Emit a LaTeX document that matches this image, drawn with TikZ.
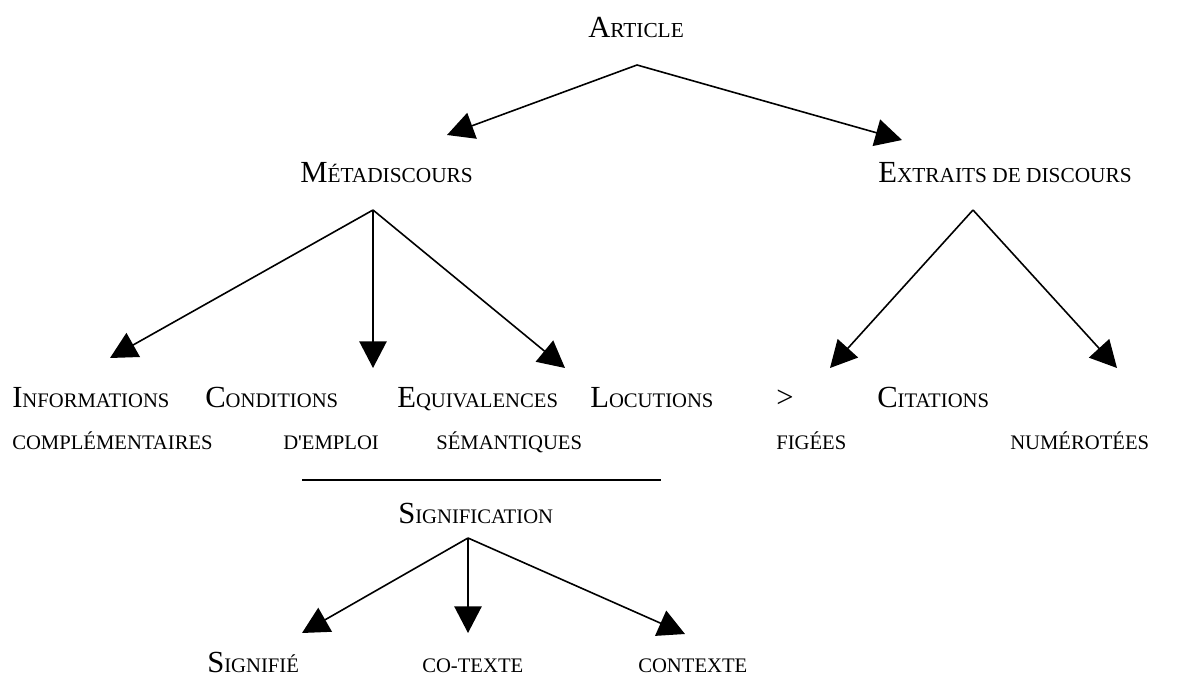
\documentclass[tikz,border=0pt]{standalone}
\usepackage{fontspec}
\setmainfont{Liberation Serif}
\usepackage{tikz}
\usetikzlibrary{arrows.meta, positioning}
\newcommand{\scw}[3][15.5]{{\fontsize{23}{27}\selectfont #2}{\fontsize{#1}{19}\selectfont #3}}
\newcommand{\scs}[1]{{\fontsize{15.5}{19}\selectfont #1}}
\tikzset{
  lbl/.style={anchor=base west, inner sep=0pt},
  arrow/.style={-{Triangle[length=20pt, width=20.5pt]}, line width=1.2pt, color=black},
  line/.style={line width=1.2pt, color=black}
}
\begin{document}
\begin{tikzpicture}[x=0.75pt, y=-0.75pt]
  \useasboundingbox (0,0) rectangle (1187,677);

  % Top level
  \node[lbl] (article) at (588,38) {\scw[16]{A}{RTICLE}};
  \node[lbl] (meta) at (300,183) {\scw[16]{M}{ÉTADISCOURS}};
  \node[lbl] (extraits) at (878,183) {\scw[16]{E}{XTRAITS DE DISCOURS}};

  % Row of subtypes
  \node[lbl] (info) at (12,407) {\scw{I}{NFORMATIONS}};
  \node[lbl] (cond) at (205,407) {\scw{C}{ONDITIONS}};
  \node[lbl] (equiv) at (397,407) {\scw{E}{QUIVALENCES}};
  \node[lbl] (locut) at (590,407) {\scw{L}{OCUTIONS}};
  \node[lbl] (gt) at (776,407) {\scw{>}{}};
  \node[lbl] (citat) at (877,407) {\scw{C}{ITATIONS}};
  \node[lbl] (compl) at (12,449) {\scs{COMPLÉMENTAIRES}};
  \node[lbl] (emploi) at (283,449) {\scs{D\textquotesingle EMPLOI}};
  \node[lbl] (seman) at (436,449) {\scs{SÉMANTIQUES}};
  \node[lbl] (figees) at (776,449) {\scs{FIGÉES}};
  \node[lbl] (numer) at (1010,449) {\scs{NUMÉROTÉES}};

  % Signification
  \coordinate (rule-l) at (302,480);
  \coordinate (rule-r) at (661,480);
  \draw[line] (rule-l) -- (rule-r);
  \node[lbl] (signif) at (398,523) {\scw{S}{IGNIFICATION}};
  \node[lbl] (signifie) at (207,672) {\scw{S}{IGNIFIÉ}};
  \node[lbl] (cotexte) at (422,672) {\scs{CO-TEXTE}};
  \node[lbl] (contexte) at (638,672) {\scs{CONTEXTE}};

  % Forks and arrow ends
  \coordinate (article-fork) at (637,65);
  \coordinate (meta-in) at (447,135);
  \coordinate (extraits-in) at (902,140);
  \coordinate (meta-fork) at (373,210);
  \coordinate (info-in) at (110,358);
  \coordinate (cond-in) at (373,368);
  \coordinate (equiv-in) at (565,368);
  \coordinate (extraits-fork) at (973,210);
  \coordinate (figees-in) at (830,368);
  \coordinate (numer-in) at (1117,368);
  \coordinate (signif-fork) at (468,538);
  \coordinate (signifie-in) at (302,633);
  \coordinate (cotexte-in) at (468,633);
  \coordinate (contexte-in) at (685,634);

  % Arrows
  \draw[arrow] (article-fork) -- (meta-in);
  \draw[arrow] (article-fork) -- (extraits-in);
  \draw[arrow] (meta-fork) -- (info-in);
  \draw[arrow] (meta-fork) -- (cond-in);
  \draw[arrow] (meta-fork) -- (equiv-in);
  \draw[arrow] (extraits-fork) -- (figees-in);
  \draw[arrow] (extraits-fork) -- (numer-in);
  \draw[arrow] (signif-fork) -- (signifie-in);
  \draw[arrow] (signif-fork) -- (cotexte-in);
  \draw[arrow] (signif-fork) -- (contexte-in);
\end{tikzpicture}
\end{document}
